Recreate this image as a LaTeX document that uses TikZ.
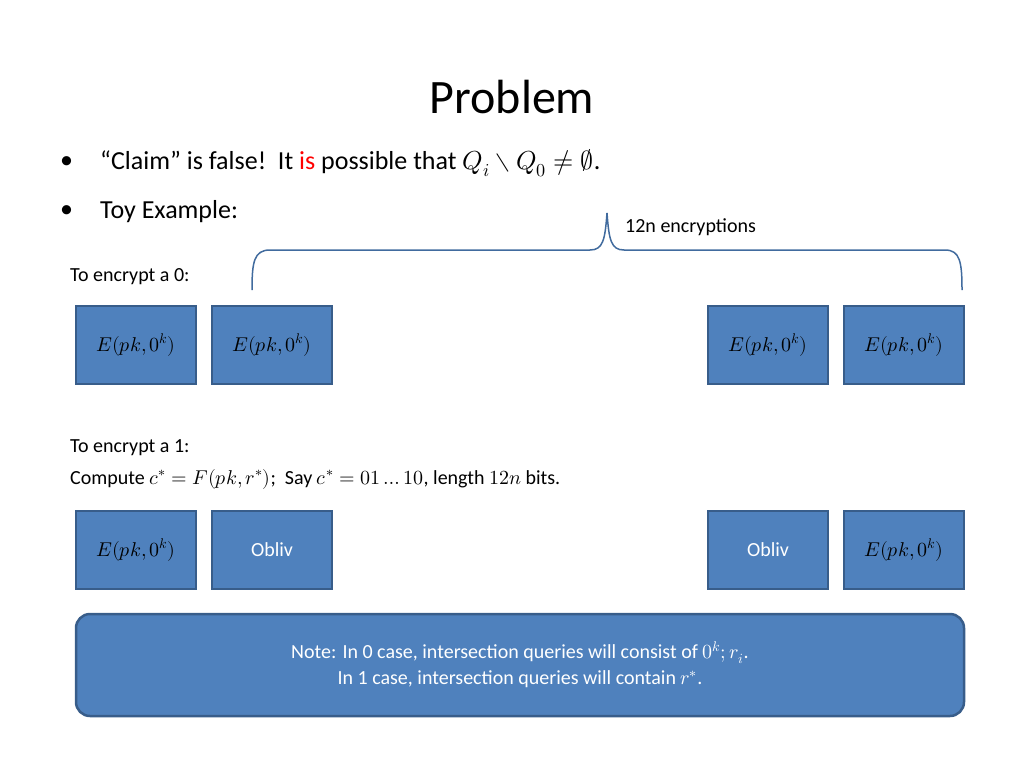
\documentclass[tikz,border=0pt]{standalone}
\usepackage{fontspec}
\setmainfont{Carlito}
\usepackage{unicode-math}
\begin{document}
\begin{tikzpicture}[x=1pt,y=-1pt,
  bx/.style={draw=blue!40!black!70!cyan!60!black,fill=boxblue,line width=1.5pt,minimum width=120pt,minimum height=78pt,inner sep=0pt,font=\fontsize{20}{24}\selectfont},
  txt/.style={anchor=west,inner sep=0pt,font=\fontsize{20}{24}\selectfont},
  big/.style={anchor=west,inner sep=0pt,font=\fontsize{26}{30}\selectfont}]
\definecolor{boxblue}{RGB}{79,129,189}
\definecolor{boxedge}{RGB}{56,93,138}
\tikzset{bx/.append style={draw=boxedge}}
\useasboundingbox (0,0) rectangle (1024,768);
\node (title) at (512,97) {\fontsize{48}{54}\selectfont Problem};
\node[big] (b1) at (60,163) {•};
\node[big] (l1) at (100,163) {“Claim” is false!\ \ It \textcolor{red}{is} possible that $Q_i\setminus Q_0\neq\emptyset$.};
\node[big] (b2) at (60,212) {•};
\node[big] (l2) at (100,212) {Toy Example:};
\node[txt] (enc) at (625,227) {12n encryptions};
\draw[boxedge!60!boxblue,line width=1.5pt] (252,290) .. controls (252,262) and (254,250) .. (270,250) -- (590,250) .. controls (603,250) and (605,240) .. (607,213) .. controls (609,240) and (611,250) .. (624,250) -- (945,250) .. controls (960,250) and (962,262) .. (962,290);
\node[txt] (t0) at (70,277) {To encrypt a 0:};
\node[bx] (a1) at (136,345) {$E(pk,0^k)$};
\node[bx] (a2) at (272,345) {$E(pk,0^k)$};
\node[bx] (a3) at (768,345) {$E(pk,0^k)$};
\node[bx] (a4) at (904,345) {$E(pk,0^k)$};
\node[txt] (t1) at (70,448) {To encrypt a 1:};
\node[txt] (t2) at (70,479) {Compute $c^*=F(pk,r^*)$;\ \ Say $c^*=01\ldots10$, length $12n$ bits.};
\node[bx] (c1) at (136,550) {$E(pk,0^k)$};
\node[bx,text=white] (c2) at (272,550) {Obliv};
\node[bx,text=white] (c3) at (768,550) {Obliv};
\node[bx] (c4) at (904,550) {$E(pk,0^k)$};
\node[bx,rounded corners=14pt,minimum width=888pt,minimum height=102pt,line width=2.5pt,align=center,text=white] (note) at (520,665)
 {Note: In 0 case, intersection queries will consist of $0^k;r_i$.\\[2pt]In 1 case, intersection queries will contain $r^*$.};
\end{tikzpicture}
\end{document}
